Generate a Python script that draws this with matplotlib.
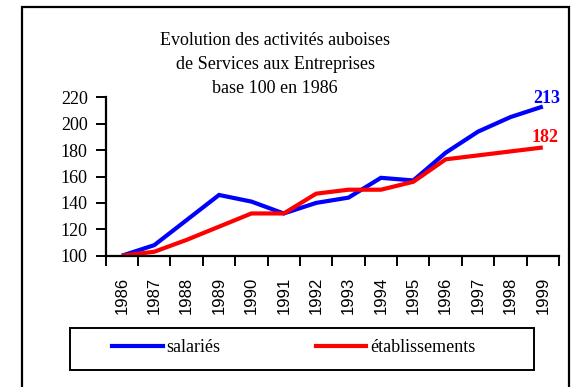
import matplotlib.pyplot as plt
from matplotlib.patches import Rectangle
from matplotlib.lines import Line2D

# Index base 100 en 1986
years = ['1986', '1987', '1988', '1989', '1990', '1991', '1992',
         '1993', '1994', '1995', '1996', '1997', '1998', '1999']
salaries = [100, 108, 127, 146, 141, 132, 140, 144, 159, 157, 178, 194, 205, 213]
etablissements = [100, 103, 112, 122, 132, 132, 147, 150, 150, 156, 173, 176, 179, 182]

blue = '#0000ff'
red = '#ff0000'
serif = 'Liberation Serif'
sans = 'Liberation Sans'

W, H = 573, 387
fig = plt.figure(figsize=(W / 100, H / 100), dpi=100, facecolor='white')

# outer frame (open at the bottom edge of the image)
fig.patches.append(Rectangle((22 / W, -0.05), (569 - 22) / W, 1.05 - 7 / H,
                             transform=fig.transFigure, fill=False,
                             edgecolor='black', linewidth=1.6))

ax = fig.add_axes([105.7 / W, 1 - 255.7 / H, (559 - 105.7) / W, (255.7 - 97.3) / H])
x = list(range(len(years)))
ax.plot(x, salaries, color=blue, linewidth=3.0, solid_capstyle='butt', solid_joinstyle='miter')
ax.plot(x, etablissements, color=red, linewidth=3.0, solid_capstyle='butt', solid_joinstyle='miter')

ax.set_xlim(-0.5, len(years) - 0.5)
ax.set_ylim(100, 220)
ax.set_yticks(range(100, 221, 20))
ax.set_yticklabels([str(v) for v in range(100, 221, 20)], fontfamily=serif, fontsize=13)

# category axis: ticks between categories, labels at centres
ax.set_xticks([i - 0.5 for i in range(len(years) + 1)])
ax.set_xticklabels([])
ax.set_xticks(x, minor=True)
ax.set_xticklabels(years, minor=True, rotation=90, fontfamily=sans, fontsize=12)
ax.tick_params(axis='x', which='minor', length=0, pad=15)
ax.tick_params(axis='both', which='major', direction='out', length=7, width=1.4)
ax.tick_params(axis='y', pad=6)

for side in ['top', 'right']:
    ax.spines[side].set_visible(False)
for side in ['left', 'bottom']:
    ax.spines[side].set_linewidth(1.6)

ax.annotate(str(salaries[-1]), xy=(x[-1], salaries[-1]), xytext=(4, 8),
            textcoords='offset pixels', ha='center', va='center', color=blue,
            fontfamily=serif, fontsize=13, fontweight='bold', annotation_clip=False)
ax.annotate(str(etablissements[-1]), xy=(x[-1], etablissements[-1]), xytext=(2, 10),
            textcoords='offset pixels', ha='center', va='center', color=red,
            fontfamily=serif, fontsize=13, fontweight='bold', annotation_clip=False)

fig.text(275 / W, 1 - 32 / H,
         'Evolution des activités auboises\nde Services aux Entreprises\nbase 100 en 1986',
         ha='center', va='top', fontfamily=serif, fontsize=13, linespacing=1.55)

# legend box
fig.patches.append(Rectangle((70 / W, 1 - 370 / H), (534 - 70) / W, 42 / H,
                             transform=fig.transFigure, fill=False,
                             edgecolor='black', linewidth=1.4))
handles = [Line2D([], [], color=blue, linewidth=3.0),
           Line2D([], [], color=red, linewidth=3.0)]
fig.legend(handles, ['salariés', 'établissements'], ncol=2, frameon=False,
           loc='center left', bbox_to_anchor=(112 / W, 1 - 348 / H),
           borderaxespad=0, borderpad=0, handlelength=2.8, handletextpad=0.2,
           columnspacing=5.3, prop={'family': serif, 'size': 13})

fig.savefig('out.png', dpi=100, facecolor='white')
